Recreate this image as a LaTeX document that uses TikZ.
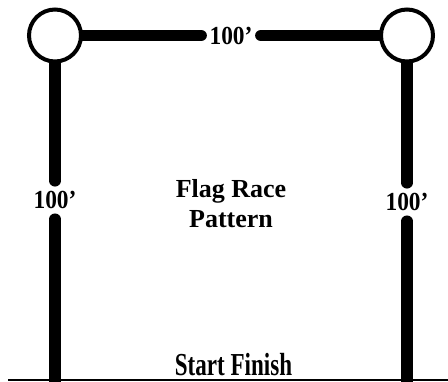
\documentclass[tikz,border=0pt]{standalone}
\usepackage{fontspec}
\setmainfont{Liberation Serif}
\usetikzlibrary{backgrounds}
\begin{document}
\begin{tikzpicture}[x=1pt,y=-1pt,
  flag/.style={circle,draw=black,line width=4pt,fill=white,minimum size=52pt,inner sep=0pt},
  bar/.style={line width=11.5pt,line cap=round,draw=black},
  dist/.style={font=\fontsize{26}{30}\selectfont\bfseries,inner sep=0pt,xscale=0.9},
  hdist/.style={dist,minimum width=66pt,minimum height=20pt},
  vdist/.style={dist,minimum height=38pt,minimum width=44pt},
  title/.style={font=\fontsize{26}{30}\selectfont\bfseries,align=center,inner sep=0pt},
  ground/.style={line width=1.5pt,draw=black}]
\useasboundingbox (0,0) rectangle (448,381);
\node[flag] (c1) at (55,35.5) {};
\node[flag] (c2) at (407,35.5) {};
\node[hdist] (t) at (231,35.5) {100’};
\node[vdist] (l) at (55,200) {100’};
\node[vdist] (r) at (407,202) {100’};
\coordinate (b1) at (55,381);
\coordinate (b2) at (407,381);
\coordinate (gl) at (8,380);
\coordinate (gr) at (448,380);
\node[title] (name) at (231,204) {Flag Race\\Pattern};
\node[font=\fontsize{32}{36}\selectfont\bfseries,inner sep=0pt,anchor=base,xscale=0.72] (sf) at (233.5,375) {Start Finish};
\begin{pgfonlayer}{background}
\draw[bar] (c1) -- (t);
\draw[bar] (t) -- (c2);
\draw[bar] (c1) -- (l);
\draw[bar] (l) -- (b1);
\draw[bar] (c2) -- (r);
\draw[bar] (r) -- (b2);
\end{pgfonlayer}
\draw[ground] (gl) -- (gr);
\end{tikzpicture}
\end{document}
